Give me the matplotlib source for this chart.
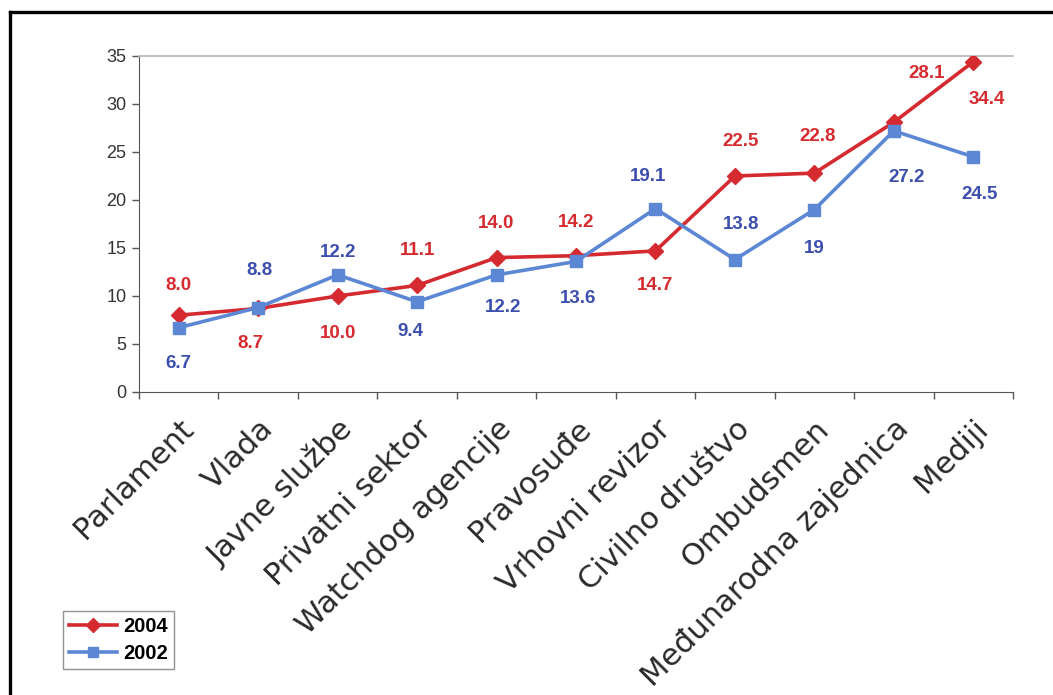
import matplotlib
matplotlib.use("Agg")
import matplotlib.pyplot as plt
from matplotlib.lines import Line2D

categories = ["Parlament", "Vlada", "Javne službe", "Privatni sektor",
              "Watchdog agencije", "Pravosuđe", "Vrhovni revizor",
              "Civilno društvo", "Ombudsmen", "Međunarodna zajednica", "Mediji"]
values_2004 = [8.0, 8.7, 10.0, 11.1, 14.0, 14.2, 14.7, 22.5, 22.8, 28.1, 34.4]
values_2002 = [6.7, 8.8, 12.2, 9.4, 12.2, 13.6, 19.1, 13.8, 19, 27.2, 24.5]
labels_2004 = ["8.0", "8.7", "10.0", "11.1", "14.0", "14.2", "14.7", "22.5", "22.8", "28.1", "34.4"]
labels_2002 = ["6.7", "8.8", "12.2", "9.4", "12.2", "13.6", "19.1", "13.8", "19", "27.2", "24.5"]

# label offsets in pixels (dx, dy)
off_2004 = [(0, 30), (-8, -35), (0, -38), (0, 35), (0, 34), (0, 33), (0, -35),
            (6, 34), (3, 37), (33, 49), (14, -38)]
off_2002 = [(0, -36), (1, 37), (0, 22), (-7, -30), (7, -33), (2, -37), (-7, 32),
            (6, 35), (0, -39), (13, -47), (6, -38)]

red_line = "#d42a30"
red_text = "#d62b2f"
blue_line = "#5b87d4"
blue_text = "#3d4fae"

W, H = 1053, 695
fig = plt.figure(figsize=(W / 100, H / 100), dpi=100)

# outer frame (left and top edges)
fig.add_artist(Line2D([10 / W, 10 / W], [0, 1 - 12 / H], transform=fig.transFigure,
                      color="black", lw=2.4))
fig.add_artist(Line2D([10 / W, 1], [1 - 12 / H, 1 - 12 / H], transform=fig.transFigure,
                      color="black", lw=2.4))

ax = fig.add_axes([139 / W, 1 - 392 / H, (1013 - 139) / W, (392 - 56) / H])
x = list(range(len(categories)))

l1, = ax.plot(x, values_2004, color=red_line, lw=2.6, marker="D", markersize=8.5,
              markeredgecolor=red_line, markerfacecolor=red_line, zorder=3, label="2004")
l2, = ax.plot(x, values_2002, color=blue_line, lw=2.6, marker="s", markersize=9,
              markeredgecolor=blue_line, markerfacecolor=blue_line, zorder=4, label="2002")

for xi, v, t, (dx, dy) in zip(x, values_2004, labels_2004, off_2004):
    ax.annotate(t, (xi, v), xytext=(dx, dy), textcoords="offset pixels",
                ha="center", va="center", color=red_text, fontsize=13.5,
                fontweight="bold", family="Liberation Sans", zorder=5)
for xi, v, t, (dx, dy) in zip(x, values_2002, labels_2002, off_2002):
    ax.annotate(t, (xi, v), xytext=(dx, dy), textcoords="offset pixels",
                ha="center", va="center", color=blue_text, fontsize=13.5,
                fontweight="bold", family="Liberation Sans", zorder=5)

ax.set_xlim(-0.5, len(categories) - 0.5)
ax.set_ylim(0, 35)
ax.set_yticks(range(0, 36, 5))
ax.tick_params(axis="y", direction="out", length=5, width=1, color="#555555",
               labelsize=13, labelcolor="#333333", pad=4)
for lab in ax.get_yticklabels():
    lab.set_family("Liberation Sans")

ax.set_xticks([i - 0.5 for i in range(len(categories) + 1)])
ax.set_xticklabels([])
ax.tick_params(axis="x", which="major", direction="out", length=5, width=1, color="#555555")
ax.set_xticks(x, minor=True)
ax.set_xticklabels(categories, minor=True, rotation=45, ha="right",
                   rotation_mode="anchor", fontsize=22, color="#2a2a2a",
                   family="DejaVu Sans")
ax.tick_params(axis="x", which="minor", length=0, pad=16)

ax.spines["right"].set_visible(False)
ax.spines["top"].set_color("#bbbbbb")
ax.spines["top"].set_linewidth(1.3)
ax.spines["left"].set_color("#555555")
ax.spines["bottom"].set_color("#555555")

leg = fig.legend(handles=[l1, l2], labels=["2004", "2002"],
                 loc="lower left", bbox_to_anchor=(63 / W, 1 - 669 / H),
                 frameon=True, fancybox=False, edgecolor="#777777",
                 prop={"family": "Liberation Sans", "weight": "bold", "size": 14.5},
                 handlelength=2.4, handletextpad=0.3, borderpad=0.3,
                 labelspacing=0.4, borderaxespad=0, markerscale=0.85)
leg.get_frame().set_linewidth(1.0)

fig.savefig("out.png", dpi=100)
